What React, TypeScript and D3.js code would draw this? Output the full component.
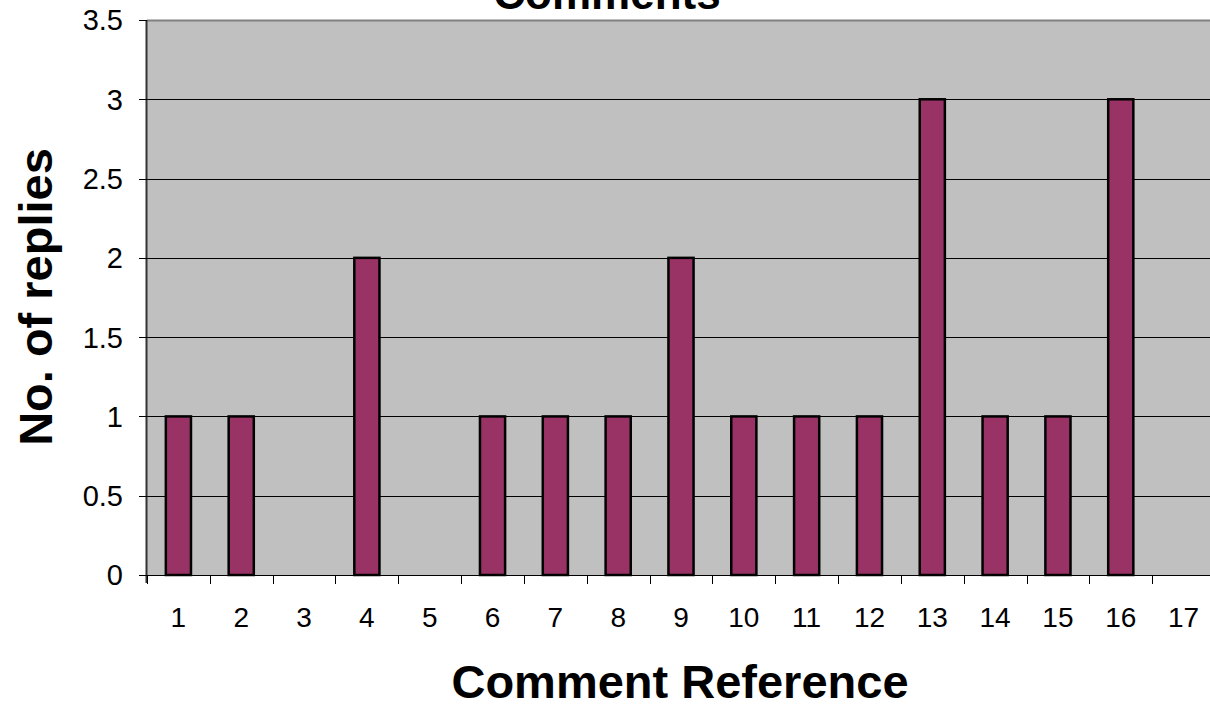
import { useEffect, useRef } from 'react'
import * as d3 from 'd3'

const CATEGORIES = ['1', '2', '3', '4', '5', '6', '7', '8', '9', '10', '11', '12', '13', '14', '15', '16', '17']
const REPLIES = [1, 1, 0, 2, 0, 1, 1, 1, 2, 1, 1, 1, 3, 1, 1, 3, 0]
const Y_TICKS = [0, 0.5, 1, 1.5, 2, 2.5, 3, 3.5]

const FONT = 'Arial, "Liberation Sans", sans-serif'

export default function App() {
  const svgRef = useRef<SVGSVGElement>(null)

  useEffect(() => {
    if (!svgRef.current) return
    const width = 1210
    const height = 704
    const margin = { top: 20, left: 147 }
    const plotRight = 1215
    const plotBottom = 575

    const x = d3.scaleBand<string>().domain(CATEGORIES).range([margin.left, plotRight]).padding(0)
    const y = d3.scaleLinear().domain([0, 3.5]).range([plotBottom, margin.top])

    d3.select(svgRef.current).selectAll('*').remove()
    const svg = d3.select(svgRef.current).attr('width', width).attr('height', height)

    // ---- Plot background ----
    svg.append('rect')
      .attr('x', margin.left)
      .attr('y', margin.top)
      .attr('width', plotRight - margin.left)
      .attr('height', plotBottom - margin.top)
      .attr('fill', '#C0C0C0')

    // top border
    svg.append('line')
      .attr('x1', margin.left).attr('x2', plotRight)
      .attr('y1', margin.top + 0.5).attr('y2', margin.top + 0.5)
      .attr('stroke', '#808080').attr('stroke-width', 2)

    // ---- Gridlines ----
    svg.selectAll('.grid')
      .data(Y_TICKS.filter((t) => t > 0 && t < 3.5))
      .join('line')
      .attr('x1', margin.left).attr('x2', plotRight)
      .attr('y1', (d) => Math.round(y(d)) + 0.5).attr('y2', (d) => Math.round(y(d)) + 0.5)
      .attr('stroke', '#000').attr('stroke-width', 1)

    // ---- Bars ----
    const bw = x.bandwidth() * 0.4
    svg.selectAll('.bar')
      .data(REPLIES.map((v, i) => ({ cat: CATEGORIES[i], v })).filter((d) => d.v > 0))
      .join('rect')
      .attr('x', (d) => (x(d.cat) ?? 0) + (x.bandwidth() - bw) / 2)
      .attr('y', (d) => y(d.v))
      .attr('width', bw)
      .attr('height', (d) => y(0) - y(d.v))
      .attr('fill', '#993366')
      .attr('stroke', '#000')
      .attr('stroke-width', 2.5)

    // ---- Axes ----
    svg.append('line')
      .attr('x1', margin.left - 0.5).attr('x2', margin.left - 0.5)
      .attr('y1', margin.top).attr('y2', plotBottom + 8)
      .attr('stroke', '#333').attr('stroke-width', 2)
    svg.append('line')
      .attr('x1', margin.left - 8).attr('x2', plotRight)
      .attr('y1', plotBottom + 0.5).attr('y2', plotBottom + 0.5)
      .attr('stroke', '#000').attr('stroke-width', 1)

    // y ticks
    svg.selectAll('.ytick')
      .data(Y_TICKS)
      .join('line')
      .attr('x1', margin.left - 8).attr('x2', margin.left)
      .attr('y1', (d) => Math.round(y(d)) + 0.5).attr('y2', (d) => Math.round(y(d)) + 0.5)
      .attr('stroke', '#000')
    svg.selectAll('.ylab')
      .data(Y_TICKS)
      .join('text')
      .attr('x', 123)
      .attr('y', (d) => y(d))
      .attr('dy', '0.36em')
      .attr('text-anchor', 'end')
      .attr('font-family', FONT)
      .attr('font-size', '29px')
      .attr('fill', '#000')
      .text((d) => String(d))

    // x ticks at band boundaries
    const bounds = CATEGORIES.map((c) => x(c) ?? 0).concat([plotRight])
    svg.selectAll('.xtick')
      .data(bounds)
      .join('line')
      .attr('x1', (d) => Math.round(d) + 0.5).attr('x2', (d) => Math.round(d) + 0.5)
      .attr('y1', plotBottom).attr('y2', plotBottom + 9)
      .attr('stroke', '#000')
    svg.selectAll('.xlab')
      .data(CATEGORIES)
      .join('text')
      .attr('x', (d) => (x(d) ?? 0) + x.bandwidth() / 2)
      .attr('y', 627)
      .attr('text-anchor', 'middle')
      .attr('font-family', FONT)
      .attr('font-size', '28px')
      .attr('fill', '#000')
      .text((d) => d)

    // ---- Titles ----
    svg.append('text')
      .attr('x', 607).attr('y', 9)
      .attr('text-anchor', 'middle')
      .attr('font-family', FONT).attr('font-size', '44px').attr('font-weight', 'bold')
      .text('Comments')
    svg.append('text')
      .attr('x', 680).attr('y', 698)
      .attr('text-anchor', 'middle')
      .attr('font-family', FONT).attr('font-size', '47px').attr('font-weight', 'bold')
      .text('Comment Reference')
    svg.append('text')
      .attr('transform', 'translate(52,297) rotate(-90)')
      .attr('text-anchor', 'middle')
      .attr('font-family', FONT).attr('font-size', '47px').attr('font-weight', 'bold')
      .text('No. of replies')
  }, [])

  return (
    <div style={{ position: 'absolute', left: 0, top: 0, width: 1210, height: 704, overflow: 'hidden', background: '#fff' }}>
      <svg ref={svgRef} style={{ display: 'block' }} />
    </div>
  )
}
